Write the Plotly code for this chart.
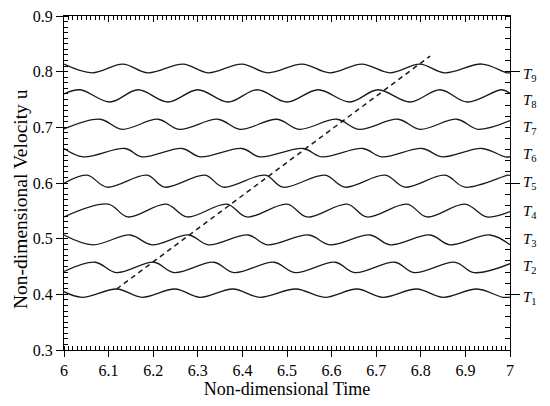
import plotly.graph_objects as go

# ---- data (time, velocity) ----
t1_x = [6.000, 6.040, 6.119, 6.175, 6.249, 6.305, 6.379, 6.439, 6.520, 6.585, 6.657, 6.715, 6.791, 6.850, 6.926, 6.984, 7.000]
t1_y = [0.4048, 0.3947, 0.4096, 0.3947, 0.4096, 0.3947, 0.4096, 0.3947, 0.4096, 0.3947, 0.4096, 0.3947, 0.4096, 0.3947, 0.4096, 0.3947, 0.3950]

t2_x = [6.000, 6.070, 6.117, 6.202, 6.247, 6.336, 6.381, 6.471, 6.518, 6.608, 6.652, 6.742, 6.785, 6.877, 6.919, 7.000]
t2_y = [0.4410, 0.4576, 0.4390, 0.4576, 0.4390, 0.4576, 0.4390, 0.4576, 0.4390, 0.4576, 0.4390, 0.4576, 0.4390, 0.4576, 0.4390, 0.4550]

t3_x = [6.000, 6.065, 6.148, 6.197, 6.280, 6.323, 6.413, 6.455, 6.549, 6.596, 6.686, 6.731, 6.821, 6.865, 6.955, 7.000]
t3_y = [0.5066, 0.4890, 0.5066, 0.4890, 0.5066, 0.4890, 0.5066, 0.4890, 0.5066, 0.4890, 0.5066, 0.4890, 0.5066, 0.4890, 0.5066, 0.4890]

t4_x = [6.000, 6.099, 6.143, 6.229, 6.276, 6.365, 6.410, 6.500, 6.545, 6.635, 6.679, 6.769, 6.814, 6.899, 6.948, 7.000]
t4_y = [0.5390, 0.5620, 0.5390, 0.5620, 0.5390, 0.5620, 0.5390, 0.5620, 0.5390, 0.5620, 0.5390, 0.5620, 0.5390, 0.5620, 0.5390, 0.5485]

t5_x = [6.000, 6.052, 6.096, 6.186, 6.226, 6.316, 6.357, 6.451, 6.491, 6.585, 6.630, 6.720, 6.765, 6.854, 6.899, 6.996, 7.000]
t5_y = [0.5995, 0.6140, 0.5925, 0.6140, 0.5925, 0.6140, 0.5925, 0.6140, 0.5925, 0.6140, 0.5925, 0.6140, 0.5925, 0.6140, 0.5925, 0.6140, 0.6135]

t6_x = [6.000, 6.043, 6.137, 6.175, 6.265, 6.305, 6.399, 6.439, 6.536, 6.578, 6.670, 6.713, 6.803, 6.848, 6.937, 6.989, 7.000]
t6_y = [0.6620, 0.6470, 0.6620, 0.6470, 0.6620, 0.6470, 0.6620, 0.6470, 0.6620, 0.6470, 0.6620, 0.6470, 0.6620, 0.6470, 0.6620, 0.6470, 0.6472]

t7_x = [6.000, 6.081, 6.130, 6.211, 6.258, 6.345, 6.395, 6.478, 6.527, 6.612, 6.661, 6.749, 6.798, 6.881, 6.928, 7.000]
t7_y = [0.6970, 0.7145, 0.6965, 0.7145, 0.6965, 0.7145, 0.6965, 0.7145, 0.6965, 0.7145, 0.6965, 0.7145, 0.6965, 0.7145, 0.6965, 0.7120]

t8_x = [6.000, 6.036, 6.103, 6.166, 6.233, 6.300, 6.368, 6.433, 6.500, 6.570, 6.641, 6.704, 6.776, 6.843, 6.904, 6.982, 7.000]
t8_y = [0.7600, 0.7675, 0.7455, 0.7675, 0.7455, 0.7675, 0.7455, 0.7675, 0.7455, 0.7675, 0.7455, 0.7675, 0.7455, 0.7675, 0.7455, 0.7675, 0.7610]

t9_x = [6.000, 6.063, 6.132, 6.188, 6.267, 6.323, 6.399, 6.457, 6.534, 6.596, 6.668, 6.731, 6.798, 6.854, 6.937, 6.993, 7.000]
t9_y = [0.8137, 0.7980, 0.8137, 0.7980, 0.8137, 0.7980, 0.8137, 0.7980, 0.8137, 0.7980, 0.8137, 0.7980, 0.8137, 0.7980, 0.8137, 0.7980, 0.7982]

dash_x = [6.118, 6.821]
dash_y = [0.4096, 0.828]

label_names = ["T1", "T2", "T3", "T4", "T5", "T6", "T7", "T8", "T9"]
label_y = [0.398, 0.454, 0.503, 0.554, 0.605, 0.655, 0.704, 0.753, 0.800]

x_ticks = [6, 6.1, 6.2, 6.3, 6.4, 6.5, 6.6, 6.7, 6.8, 6.9, 7]
y_ticks = [0.3, 0.4, 0.5, 0.6, 0.7, 0.8, 0.9]

FONT = "Liberation Serif"
LINE = "#1a1a1a"

curves = [(t1_x, t1_y), (t2_x, t2_y), (t3_x, t3_y), (t4_x, t4_y), (t5_x, t5_y),
          (t6_x, t6_y), (t7_x, t7_y), (t8_x, t8_y), (t9_x, t9_y)]

fig = go.Figure()
for (xs, ys), name in zip(curves, label_names):
    fig.add_trace(go.Scatter(x=xs, y=ys, mode="lines", name=name,
                             line=dict(color=LINE, width=1.3, shape="spline", smoothing=1.0),
                             showlegend=False, hoverinfo="skip"))

fig.add_trace(go.Scatter(x=dash_x, y=dash_y, mode="lines",
                         line=dict(color=LINE, width=1.5, dash="5px,4px"),
                         showlegend=False, hoverinfo="skip"))

# empty trace to register the mirrored top/right axes
fig.add_trace(go.Scatter(x=[], y=[], xaxis="x2", yaxis="y2", showlegend=False, hoverinfo="skip"))

for name, yv in zip(label_names, label_y):
    fig.add_annotation(x=1, xref="paper", y=yv, yref="y", xanchor="left", yanchor="middle",
                       xshift=11, yshift=-3, showarrow=False,
                       text="<i>T</i><sub>%s</sub>" % name[1:],
                       font=dict(family=FONT, size=15, color="black"))

# y-axis title (placed as in the reference, a little below the plot centre)
fig.add_annotation(x=0, xref="paper", y=0.452, yref="paper", xanchor="center", yanchor="middle",
                   xshift=-44, showarrow=False, textangle=-90,
                   text="Non-dimensional Velocity u",
                   font=dict(family=FONT, size=19.5, color="black"))

# the page body adds an 8px offset, so the figure is sized to fit the 550x406 window
fig.update_layout(
    width=542, height=398,
    margin=dict(l=56, r=40, t=8, b=56),
    paper_bgcolor="white", plot_bgcolor="white",
    font=dict(family=FONT, size=16, color="black"),
    xaxis=dict(range=[6, 7], tickvals=x_ticks, ticktext=[str(v) for v in x_ticks],
               automargin=False, ticklabeloverflow="allow",
               showgrid=False, zeroline=False, showline=True, linecolor="black", linewidth=1,
               ticks="outside", ticklen=6, tickwidth=1, tickcolor="black",
               minor=dict(dtick=0.01, ticks="inside", ticklen=4, tickwidth=1, tickcolor="black"),
               title=dict(text="Non-dimensional Time", font=dict(family=FONT, size=18), standoff=2),
               tickfont=dict(family=FONT, size=16)),
    yaxis=dict(range=[0.3, 0.9], tickvals=y_ticks, ticktext=["%.1f" % v for v in y_ticks],
               automargin=False, ticklabeloverflow="allow",
               showgrid=False, zeroline=False, showline=True, linecolor="black", linewidth=1,
               ticks="outside", ticklen=7, tickwidth=1, tickcolor="black",
               minor=dict(dtick=0.01, ticks="inside", ticklen=4, tickwidth=1, tickcolor="black"),
               tickfont=dict(family=FONT, size=16)),
    xaxis2=dict(range=[6, 7], overlaying="x", side="top", anchor="y", showticklabels=False,
                automargin=False,
                tickvals=x_ticks, showgrid=False, zeroline=False, showline=True,
                linecolor="black", linewidth=1, ticks="inside", ticklen=6, tickcolor="black",
                minor=dict(dtick=0.01, ticks="inside", ticklen=4, tickcolor="black")),
    yaxis2=dict(range=[0.3, 0.9], overlaying="y", side="right", anchor="x", showticklabels=False,
                automargin=False,
                tickvals=[0.4, 0.6, 0.8], showgrid=False, zeroline=False, showline=True,
                linecolor="black", linewidth=1, ticks="outside", ticklen=9, tickcolor="black",
                minor=dict(dtick=0.02, ticks="inside", ticklen=5, tickcolor="black")),
)

fig.write_html("out.html")
